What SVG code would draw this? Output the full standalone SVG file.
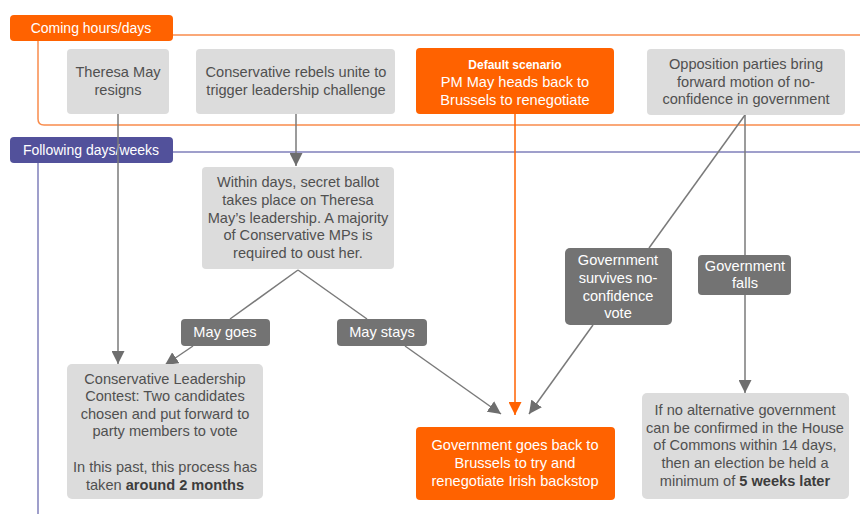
<svg xmlns="http://www.w3.org/2000/svg" width="860" height="514" viewBox="0 0 860 514">
<defs>
<style>
text{font-family:"Liberation Sans","Noto Sans",Arial,sans-serif;font-size:14.6px;text-anchor:middle}
.h{font-size:14px}
.g{fill:#dcdcdc}
.o{fill:#ff6200}
.d{fill:#737373}
.tg{fill:#505050}
.tw{fill:#ffffff}
.b{font-weight:bold}
.c{fill:none;stroke:#7a7a7a;stroke-width:1.5}
.co{fill:none;stroke:#ff6200;stroke-width:1.5}
</style>
<marker id="ag" viewBox="0 0 10 10" refX="10" refY="5" markerWidth="13" markerHeight="13" markerUnits="userSpaceOnUse" orient="auto"><path d="M0,0 L10,5 L0,10 z" fill="#6e6e6e"/></marker>
<marker id="ao" viewBox="0 0 10 10" refX="10" refY="5" markerWidth="13" markerHeight="13" markerUnits="userSpaceOnUse" orient="auto"><path d="M0,0 L10,5 L0,10 z" fill="#ff6200"/></marker>
</defs>
<rect width="860" height="514" fill="#ffffff"/>
<g id="frame-coming">
<path d="M173,35 H860 M38,41 V119 Q38,125 44,125 H860" fill="none" stroke="#f98c4c" stroke-width="1.5"/>
<rect x="10" y="15" width="163" height="26" rx="4" fill="#ff6200"/>
<text x="91" y="33" class="tw h">Coming hours/days</text>
</g>
<g id="frame-following">
<path d="M173,152 H860 M38,163 V514" fill="none" stroke="#8080bb" stroke-width="1.5"/>
<rect x="10" y="137" width="163" height="26" rx="4" fill="#52519b"/>
<text x="91" y="155" class="tw h">Following days/weeks</text>
</g>
<g id="connectors">
<path class="c" d="M118,114 V364" marker-end="url(#ag)"/>
<path class="c" d="M296,114 V166" marker-end="url(#ag)"/>
<path class="c" d="M298,270 L230,319"/>
<path class="c" d="M298,270 L367,319"/>
<path class="c" d="M193,346 L165,365" marker-end="url(#ag)"/>
<path class="c" d="M405,346 L501,414" marker-end="url(#ag)"/>
<path class="co" d="M515,114 V415" marker-end="url(#ao)"/>
<path class="c" d="M745,115 L649,248"/>
<path class="c" d="M593,325 L529,414" marker-end="url(#ag)"/>
<path class="c" d="M745,115 V393" marker-end="url(#ag)"/>
</g>
<g id="n-resigns">
<rect class="g" x="67" y="49" width="102" height="65" rx="4"/>
<text class="tg" x="118" y="77">Theresa May</text>
<text class="tg" x="118" y="95">resigns</text>
</g>
<g id="n-rebels">
<rect class="g" x="196" y="49" width="199" height="65" rx="4"/>
<text class="tg" x="296" y="77">Conservative rebels unite to</text>
<text class="tg" x="296" y="95">trigger leadership challenge</text>
</g>
<g id="n-default">
<rect class="o" x="416" y="48" width="198" height="66" rx="4"/>
<text class="tw b" x="515" y="69" style="font-size:12px">Default scenario</text>
<text class="tw" x="515" y="87">PM May heads back to</text>
<text class="tw" x="515" y="105">Brussels to renegotiate</text>
</g>
<g id="n-opposition">
<rect class="g" x="647" y="49" width="198" height="66" rx="4"/>
<text class="tg" x="746" y="69">Opposition parties bring</text>
<text class="tg" x="746" y="87">forward motion of no-</text>
<text class="tg" x="746" y="104">confidence in government</text>
</g>
<g id="n-ballot">
<rect class="g" x="202" y="167" width="192" height="102" rx="4"/>
<text class="tg" x="298" y="187">Within days, secret ballot</text>
<text class="tg" x="298" y="205">takes place on Theresa</text>
<text class="tg" x="298" y="223">May’s leadership. A majority</text>
<text class="tg" x="298" y="240">of Conservative MPs is</text>
<text class="tg" x="298" y="258">required to oust her.</text>
</g>
<g id="l-goes">
<rect class="d" x="181" y="319" width="89" height="27" rx="4"/>
<text class="tw" x="225" y="337">May goes</text>
</g>
<g id="l-stays">
<rect class="d" x="337" y="319" width="90" height="27" rx="4"/>
<text class="tw" x="382" y="337">May stays</text>
</g>
<g id="l-survives">
<rect class="d" x="565" y="248" width="107" height="77" rx="5"/>
<text class="tw" x="618" y="265">Government</text>
<text class="tw" x="618" y="283">survives no-</text>
<text class="tw" x="618" y="301">confidence</text>
<text class="tw" x="618" y="318">vote</text>
</g>
<g id="l-falls">
<rect class="d" x="698" y="255" width="93" height="40" rx="4"/>
<text class="tw" x="745" y="271">Government</text>
<text class="tw" x="745" y="288">falls</text>
</g>
<g id="n-contest">
<rect class="g" x="67" y="364" width="196" height="135" rx="5"/>
<text class="tg" x="165" y="384">Conservative Leadership</text>
<text class="tg" x="165" y="401">Contest: Two candidates</text>
<text class="tg" x="165" y="419">chosen and put forward to</text>
<text class="tg" x="165" y="436">party members to vote</text>
<text class="tg" x="165" y="472">In this past, this process has</text>
<text class="tg" x="165" y="490">taken <tspan class="b" fill="#3c3c3c">around 2 months</tspan></text>
</g>
<g id="n-backstop">
<rect class="o" x="416" y="427" width="199" height="73" rx="4"/>
<text class="tw" x="515" y="450">Government goes back to</text>
<text class="tw" x="515" y="468">Brussels to try and</text>
<text class="tw" x="515" y="486">renegotiate Irish backstop</text>
</g>
<g id="n-election">
<rect class="g" x="642" y="393" width="207" height="106" rx="5"/>
<text class="tg" x="745" y="415">If no alternative government</text>
<text class="tg" x="745" y="433">can be confirmed in the House</text>
<text class="tg" x="745" y="450">of Commons within 14 days,</text>
<text class="tg" x="745" y="468">then an election be held a</text>
<text class="tg" x="745" y="486">minimum of <tspan class="b" fill="#3c3c3c">5 weeks later</tspan></text>
</g>
</svg>
